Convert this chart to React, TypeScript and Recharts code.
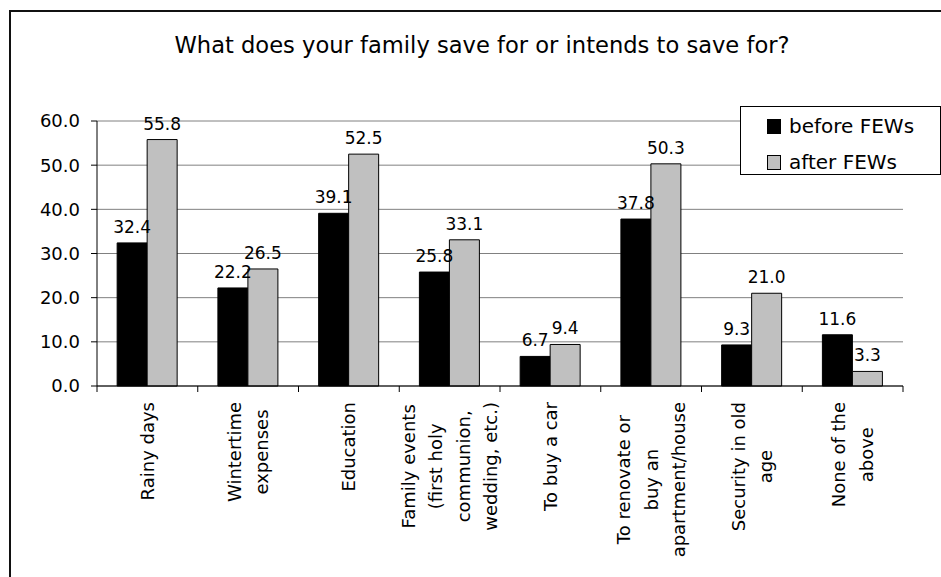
import React from 'react';
import { BarChart, Bar, XAxis, YAxis, CartesianGrid, Legend, LabelList } from 'recharts';

// Savings purposes, share of families (%) before and after the FEWs
const categories = [
  'Rainy days',
  'Wintertime\nexpenses',
  'Education',
  'Family events\n(first holy\ncommunion,\nwedding, etc.)',
  'To buy a car',
  'To renovate or\nbuy an\napartment/house',
  'Security in old\nage',
  'None of the\nabove',
];
const beforeFEWs = [32.4, 22.2, 39.1, 25.8, 6.7, 37.8, 9.3, 11.6];
const afterFEWs = [55.8, 26.5, 52.5, 33.1, 9.4, 50.3, 21.0, 3.3];
const yTicks = [0, 10, 20, 30, 40, 50, 60];
const seriesNames = ['before FEWs', 'after FEWs'];
const titleText = 'What does your family save for or intends to save for?';

const data = categories.map((category, i) => ({
  category,
  before: beforeFEWs[i],
  after: afterFEWs[i],
}));

const FONT = "'DejaVu Sans', Verdana, sans-serif";
const LABEL_SIZE = 18;
const LINE_H = 27.5;

let measureCtx: CanvasRenderingContext2D | null = null;
function textWidth(text: string, size: number): number {
  if (!measureCtx) {
    const c = document.createElement('canvas');
    measureCtx = c.getContext('2d');
  }
  if (!measureCtx) return text.length * size * 0.58;
  measureCtx.font = `${size}px 'DejaVu Sans'`;
  return measureCtx.measureText(text).width;
}

// Category label: rotated, wrapped lines centred on each other, tick marks at band edges
function CategoryTick(props: any) {
  const { x, y, payload, index, width } = props;
  const band = width / categories.length;
  const lines = String(payload.value).split('\n');
  const maxLen = Math.max(...lines.map((l) => textWidth(l, LABEL_SIZE)));
  const top = y + 16;
  const cy = top + maxLen / 2;
  return (
    <g>
      <line x1={x - band / 2} y1={y} x2={x - band / 2} y2={y + 6} stroke="#000" />
      {index === categories.length - 1 && (
        <line x1={x + band / 2} y1={y} x2={x + band / 2} y2={y + 6} stroke="#000" />
      )}
      {lines.map((line, i) => {
        const cx = x + (i - (lines.length - 1) / 2) * LINE_H;
        return (
          <text
            key={i}
            x={cx}
            y={cy}
            transform={`rotate(-90 ${cx} ${cy})`}
            textAnchor="middle"
            dominantBaseline="central"
            fontSize={LABEL_SIZE}
            fontFamily={FONT}
            fill="#000"
          >
            {line}
          </text>
        );
      })}
    </g>
  );
}

const swatchFills = ['#000000', '#C0C0C0'];

function LegendBox() {
  return (
    <div
      style={{
        position: 'relative',
        boxSizing: 'border-box',
        width: 201,
        height: 69,
        border: '1px solid #000',
        background: '#fff',
        fontFamily: FONT,
        fontSize: 20,
        color: '#000',
      }}
    >
      {seriesNames.map((name, i) => (
        <div
          key={name}
          style={{
            position: 'absolute',
            left: 26,
            top: 6 + i * 36,
            height: 26,
            display: 'flex',
            alignItems: 'center',
            whiteSpace: 'nowrap',
          }}
        >
          <span
            style={{
              display: 'inline-block',
              boxSizing: 'border-box',
              width: 14,
              height: 15,
              background: swatchFills[i],
              border: '1px solid #000',
              marginRight: 8,
            }}
          />
          <span style={{ lineHeight: '26px' }}>{name}</span>
        </div>
      ))}
    </div>
  );
}

export default function App() {
  return (
    <div style={{ position: 'absolute', left: 0, top: 0, width: 941, height: 577, background: '#fff' }}>
      <BarChart
        width={941}
        height={577}
        data={data}
        margin={{ top: 121, right: 38, bottom: 0, left: 0 }}
        barCategoryGap="20%"
        barGap={0}
      >
        <rect x={10} y={11} width={1000} height={1000} fill="none" stroke="#111" strokeWidth={2} />
        <text x={482} y={53} textAnchor="middle" fontSize={22.6} fontFamily={FONT} fill="#000">
          {titleText}
        </text>
        <CartesianGrid vertical={false} stroke="#808080" />
        <XAxis
          dataKey="category"
          height={191}
          interval={0}
          tickLine={false}
          tickSize={0}
          tickMargin={0}
          axisLine={{ stroke: '#000' }}
          tick={<CategoryTick />}
        />
        <YAxis
          domain={[0, 60]}
          ticks={yTicks}
          interval={0}
          width={97}
          tickSize={6}
          tickMargin={11}
          tickFormatter={(v: number) => v.toFixed(1)}
          axisLine={{ stroke: '#000' }}
          tickLine={{ stroke: '#000' }}
          tick={{ fill: '#000', fontSize: 18, fontFamily: FONT }}
        />
        <YAxis
          yAxisId="edge"
          orientation="right"
          width={0}
          tick={false}
          tickLine={false}
          axisLine={{ stroke: '#808080' }}
        />
        <Legend
          layout="vertical"
          align="center"
          verticalAlign="middle"
          wrapperStyle={{ left: 740, top: 106, width: 201, height: 69 }}
          content={() => <LegendBox />}
        />
        <Bar dataKey="before" name={seriesNames[0]} fill="#000" stroke="#000" isAnimationActive={false}>
          <LabelList
            dataKey="before"
            position="top"
            offset={10}
            formatter={(v: any) => Number(v).toFixed(1)}
            fill="#000"
            stroke="none"
            fontSize={17}
            fontFamily={FONT}
          />
        </Bar>
        <Bar dataKey="after" name={seriesNames[1]} fill="#C0C0C0" stroke="#000" isAnimationActive={false}>
          <LabelList
            dataKey="after"
            position="top"
            offset={10}
            formatter={(v: any) => Number(v).toFixed(1)}
            fill="#000"
            stroke="none"
            fontSize={17}
            fontFamily={FONT}
          />
        </Bar>
      </BarChart>
    </div>
  );
}
